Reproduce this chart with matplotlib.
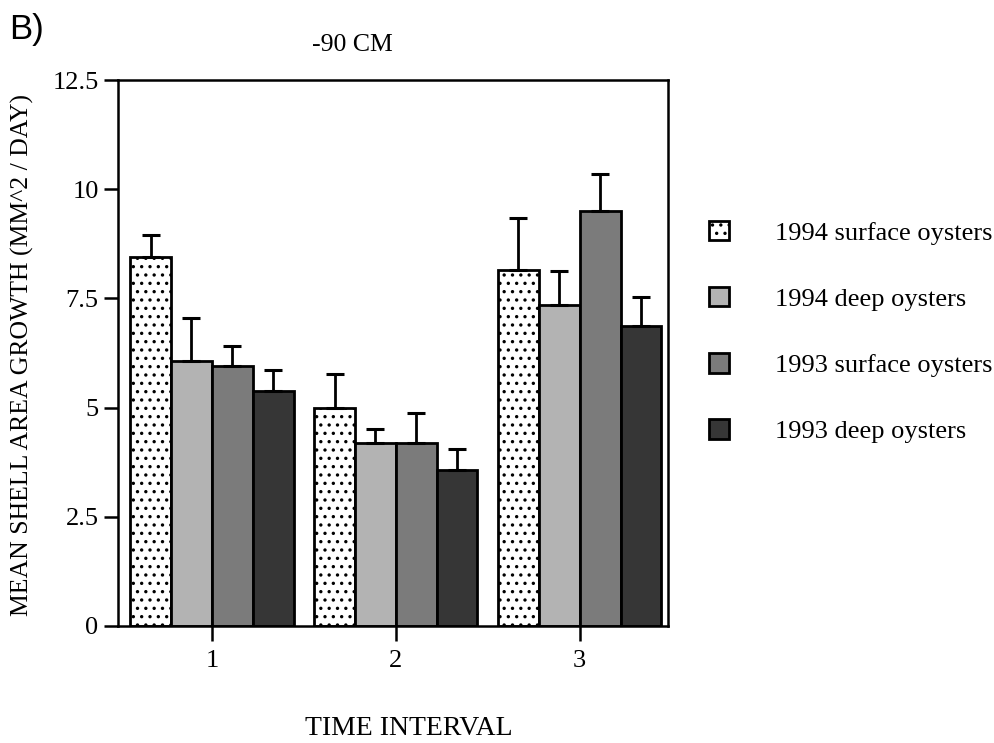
import numpy as np
import matplotlib
matplotlib.use("Agg")
import matplotlib.pyplot as plt
from matplotlib.patches import Patch

plt.rcParams["font.family"] = ["Liberation Serif", "DejaVu Serif"]
plt.rcParams["hatch.linewidth"] = 1.2

# Mean shell area growth per time interval (mm^2/day) with upper standard errors
intervals = ["1", "2", "3"]
series_names = ["1994 surface oysters", "1994 deep oysters",
                "1993 surface oysters", "1993 deep oysters"]
surface_1994 = [8.45, 5.0, 8.15]
deep_1994 = [6.06, 4.2, 7.35]
surface_1993 = [5.95, 4.2, 9.5]
deep_1993 = [5.38, 3.58, 6.86]
err_surface_1994 = [0.5, 0.78, 1.2]
err_deep_1994 = [0.98, 0.32, 0.78]
err_surface_1993 = [0.47, 0.67, 0.84]
err_deep_1993 = [0.47, 0.48, 0.68]

values = [surface_1994, deep_1994, surface_1993, deep_1993]
errors = [err_surface_1994, err_deep_1994, err_surface_1993, err_deep_1993]
faces = ["white", "#b3b3b3", "#7b7b7b", "#363636"]
hatches = ["..", None, None, None]

fig = plt.figure(figsize=(9.95, 7.43), dpi=100)
ax = fig.add_axes([0.1186, 0.1575, 0.5528, 0.7348])

x = np.arange(1, len(intervals) + 1)
width = 0.222
offsets = (np.arange(4) - 1.5) * width

for vals, errs, fc, h, off in zip(values, errors, faces, hatches, offsets):
    ax.bar(x + off, vals, width, color=fc, edgecolor="black",
           linewidth=2.0, hatch=h, zorder=2)
    ax.errorbar(x + off, vals, yerr=[np.zeros(len(vals)), errs], fmt="none",
                ecolor="black", elinewidth=2.0, capsize=6.5, capthick=2.2,
                zorder=3)

ax.set_xlim(0.49, 3.48)
ax.set_ylim(0, 12.5)
ax.set_yticks([0, 2.5, 5, 7.5, 10, 12.5])
ax.set_yticklabels(["0", "2.5", "5", "7.5", "10", "12.5"])
ax.set_xticks(x)
ax.set_xticklabels(intervals)
ax.tick_params(axis="both", labelsize=19, width=1.8, direction="out")
ax.tick_params(axis="y", length=10, pad=4)
ax.tick_params(axis="x", length=11, pad=6)
for s in ax.spines.values():
    s.set_linewidth(1.8)

ax.set_xlabel("TIME INTERVAL", fontsize=20)
ax.xaxis.set_label_coords(0.529, -0.165)
ax.set_ylabel("MEAN SHELL AREA GROWTH (MM^2 / DAY)", fontsize=18.5)
ax.yaxis.set_label_coords(-0.152, 0.497)

fig.text(352 / 995, 1 - 45 / 743, "-90 CM", fontsize=18.5,
         ha="center", va="center")
fig.text(0.009, 1 - 30 / 743, "B)", fontsize=25, ha="left", va="center",
         family=["Liberation Sans", "DejaVu Sans"])

handles = [Patch(facecolor=fc, edgecolor="black", linewidth=2.0, hatch=h)
           for fc, h in zip(faces, hatches)]
fig.legend(handles, series_names, loc="upper left",
           bbox_to_anchor=(709 / 995, 1 - 221 / 743), frameon=False,
           fontsize=19, handlelength=0.75, handleheight=0.75,
           handletextpad=1.75, labelspacing=1.6, borderpad=0,
           borderaxespad=0)

fig.savefig("out.png", dpi=100)
